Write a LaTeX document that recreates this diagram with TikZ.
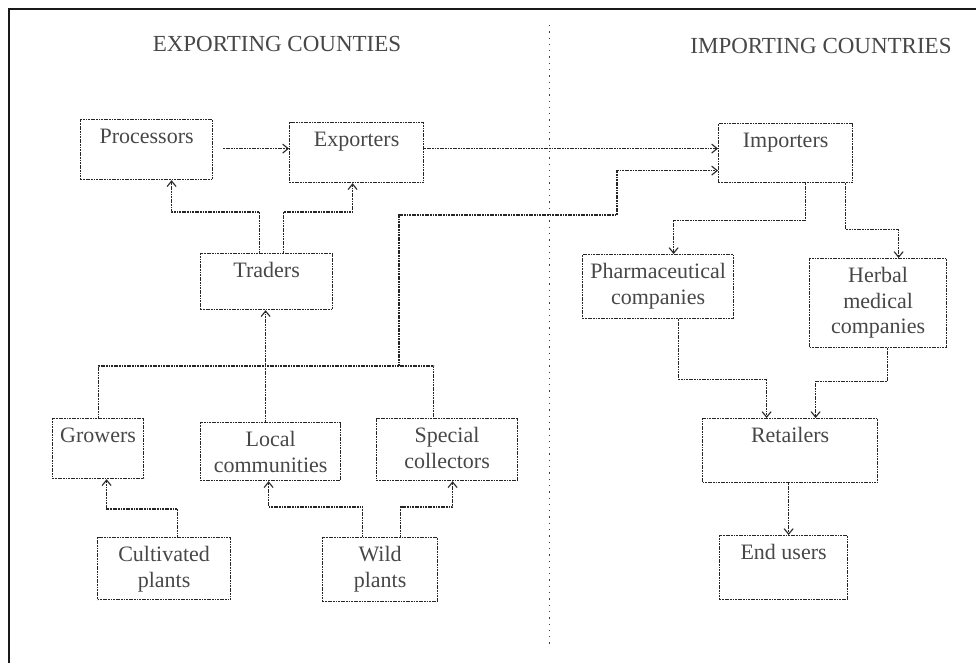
\documentclass[tikz,border=0pt]{standalone}
\usepackage{fontspec}
\setmainfont{Liberation Serif}
\usetikzlibrary{arrows.meta}
\tikzset{
  bx/.style={draw=black!85, line width=1.2pt, dash pattern=on 1.8pt off 0.8pt, inner sep=0pt, text=black!72},
  ln/.style={draw=black!85, line width=1.2pt, dash pattern=on 1.8pt off 0.8pt},
  arr/.style={ln, -{Straight Barb[length=5.5pt,width=9pt,line width=1.1pt]}},
  ttl/.style={text=black!72, font=\fontsize{23}{27}\selectfont, inner sep=0pt, anchor=base},
}
\newcommand\mybox[6]{%
  \pgfmathsetmacro\mybw{#4-#2}\pgfmathsetmacro\mybh{#5-#3}%
  \node[bx, anchor=north west, minimum width=\mybw pt, minimum height=\mybh pt] (#1) at (#2,#3)
    {\parbox[c][\mybh pt][t]{\mybw pt}{\centering\fontsize{22}{25.5}\selectfont\rule{0pt}{24pt}#6\par}};}
\begin{document}
\begin{tikzpicture}[x=1pt,y=-1pt]
\useasboundingbox (0,0) rectangle (976,663);
% frame and divider
\coordinate (f1) at (9,663); \coordinate (f2) at (9,9); \coordinate (f3) at (976,9);
\draw[line width=1.4pt, black!90] (f1) -- (f2) -- (f3);
\coordinate (d1) at (549,25); \coordinate (d2) at (549,648);
\draw[black!75, line width=1pt, dash pattern=on 1.3pt off 5pt] (d1) -- (d2);
% titles
\node[ttl] (t1) at (277,52) {EXPORTING COUNTIES};
\node[ttl] (t2) at (821,54) {IMPORTING COUNTRIES};
% boxes
\mybox{proc}{80}{119}{212}{179}{Processors}
\mybox{exp}{289}{122}{423}{182}{Exporters}
\mybox{trad}{200}{253}{332}{309}{Traders}
\mybox{grow}{52}{418}{143}{478}{Growers}
\mybox{loc}{200}{422}{340}{480}{Local\\communities}
\mybox{spec}{376}{418}{517}{480}{Special\\collectors}
\mybox{cult}{97}{537}{230}{599}{Cultivated\\plants}
\mybox{wild}{322}{537}{437}{601}{Wild\\plants}
\mybox{imp}{718}{123}{852}{182}{Importers}
\mybox{pharm}{582}{254}{733}{318}{Pharmaceutical\\companies}
\mybox{herb}{809}{258}{946}{347}{Herbal\\medical\\companies}
\mybox{ret}{702}{418}{877}{482}{Retailers}
\mybox{end}{719}{535}{847}{599}{End users}
% connectors, exporting side
\draw[arr, shorten <=10pt] ([yshift=1pt]proc.east) -- ([yshift=1pt]proc.east -| exp.west);
\draw[arr] ([yshift=4pt]exp.east) -- ([yshift=4pt]exp.east -| imp.west);
\draw[arr] ([xshift=-7pt]trad.north) -- ++(0,-41) -| ([xshift=25pt]proc.south);
\draw[arr] ([xshift=17pt]trad.north) -- ++(0,-41) -| ([xshift=-4pt]exp.south);
\coordinate (bus) at (0,366);
\draw[ln] (grow.north) -- (grow.north |- bus) -- ([xshift=-13.5pt]spec.north |- bus) -- ([xshift=-13.5pt]spec.north);
\draw[arr] ([xshift=-5pt]loc.north) -- ([xshift=-5pt]loc.north |- trad.south);
\coordinate (bj) at (399,366); \coordinate (bk) at (617,215);
\draw[arr] (bj) |- (bk) |- ([yshift=-17.5pt]imp.west);
\draw[arr] ([xshift=13.5pt]cult.north) -- ++(0,-28) -| ([xshift=8.5pt]grow.south);
\draw[arr] ([xshift=-17.5pt]wild.north) -- ++(0,-30) -| ([xshift=-2pt]loc.south);
\draw[arr] ([xshift=20.5pt]wild.north) -- ++(0,-30) -| ([xshift=5.5pt]spec.south);
% connectors, importing side
\draw[arr] ([xshift=20pt]imp.south) -- ++(0,37) -| ([xshift=15.5pt]pharm.north);
\draw[arr] ([xshift=60pt]imp.south) -- ++(0,46) -| ([xshift=20.5pt]herb.north);
\draw[arr] ([xshift=20.5pt]pharm.south) -- ++(0,60) -| ([xshift=-23.5pt]ret.north);
\draw[arr] ([xshift=9.5pt]herb.south) -- ++(0,33) -| ([xshift=25.5pt]ret.north);
\draw[arr] ([xshift=-1.5pt]ret.south) -- ([xshift=-1.5pt]ret.south |- end.north);
\end{tikzpicture}
\end{document}
